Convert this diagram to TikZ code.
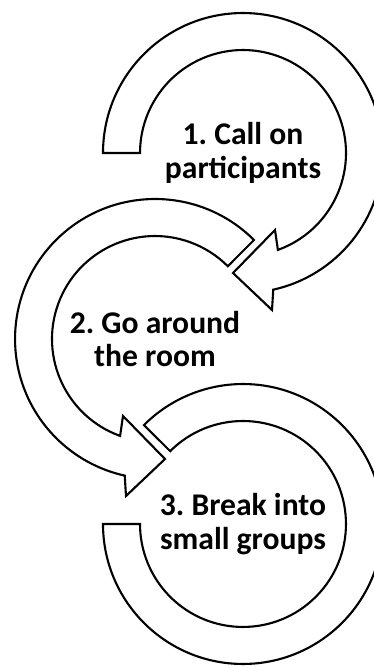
\documentclass[tikz,border=0pt]{standalone}
\usepackage{fontspec}
\setmainfont{Carlito}
\usetikzlibrary{calc}
\definecolor{ink}{HTML}{000000}
\definecolor{paper}{HTML}{FFFFFF}
\frenchspacing

\begin{document}
\begin{tikzpicture}[x=0.02cm, y=0.02cm,
  ring/.style={fill=paper, draw=ink, line width=1.2pt},
  lbl/.style={font=\fontsize{18}{19}\selectfont\bfseries, text=ink, align=center, inner sep=0pt}]

\useasboundingbox (0,0) rectangle (374,667);

% Centres of the three circular arrows
\coordinate (c1) at (243,514);
\coordinate (c2) at (155,328);
\coordinate (c3) at (243,143);

% =========== ARROW 3 (bottom, open ring) ===========
\draw[ring] ($(c3)+(180:140)$) arc[start angle=180, end angle=495, radius=2.8cm]
  -- ($(c3)+(135:103)$) arc[start angle=135, end angle=-180, radius=2.06cm] -- cycle;

% =========== ARROW 2 (middle, counter-clockwise) ===========
\draw[ring] ($(c2)+(45:140)$) arc[start angle=45, end angle=257.5, radius=2.8cm]
  -- ($(c2)+(-29,-157)$) -- ($(c2)+(10,-120)$) -- ($(c2)+(-32,-77)$)
  -- ($(c2)+(250.2:103)$) arc[start angle=250.2, end angle=45, radius=2.06cm] -- cycle;

% =========== ARROW 1 (top, clockwise) ===========
\draw[ring] ($(c1)+(180:140)$) arc[start angle=180, end angle=-77.5, radius=2.8cm]
  -- ($(c1)+(29,-157)$) -- ($(c1)+(-10,-120)$) -- ($(c1)+(32,-77)$)
  -- ($(c1)+(-70.2:103)$) arc[start angle=-70.2, end angle=180, radius=2.06cm] -- cycle;

% Labels
\node[lbl] (call)  at (c1) {1. Call on\\participants};
\node[lbl] (room)  at (c2) {2. Go around\\the room};
\node[lbl] (break) at (c3) {3. Break into\\small groups};

\end{tikzpicture}
\end{document}
